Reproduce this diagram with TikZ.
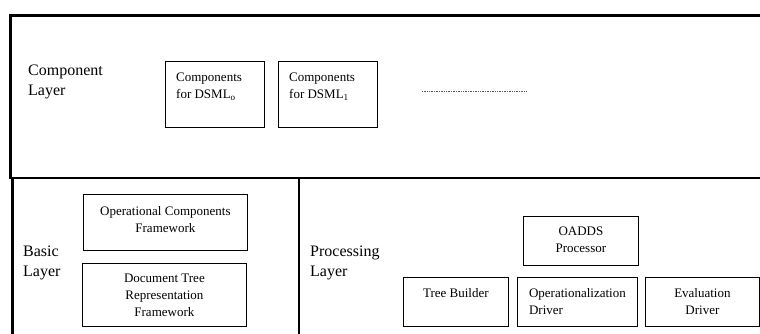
\documentclass[tikz,border=0pt]{standalone}
\usepackage{fontspec}
\setmainfont{Liberation Serif}
\usetikzlibrary{positioning}
\colorlet{layerline}{black}
\colorlet{dotgray}{black!65}

\begin{document}
\begin{tikzpicture}[x=1pt, y=-1pt,
        layer/.style={draw=layerline, line width=2.8pt},
        box/.style={draw, line width=0.8pt, inner sep=0pt, anchor=north west},
        boxtext/.style={font=\fontsize{13}{17}\selectfont, inner sep=0pt, anchor=north, align=center},
        layertext/.style={font=\fontsize{16}{20.5}\selectfont, inner sep=0pt, anchor=west, align=left}]
        \clip (0,0) rectangle (760,334);
        % the three layers
        \draw[layer] (10.5,15.5) rectangle (800,178);
        \draw[layer] (12.5,178) rectangle (299,360);
        \draw[layer] (299,178) rectangle (800,360);
        \node[layertext] (complayer) at (28,82) {Component\\Layer};
        \node[layertext] (basiclayer) at (23,263) {Basic\\Layer};
        \node[layertext] (proclayer) at (310,263) {Processing\\Layer};
        % component layer
        \foreach \i/\x/\s in {0/165/o, 1/278/1}{
            \node[box, minimum width=99pt, minimum height=66pt] (dsml\i) at (\x,61) {};
            \node[boxtext, anchor=north west, align=left] (dsml\i-text) at ([shift={(11,12)}]dsml\i.north west) {Components\\for DSML\textsubscript{\s}};
        }
        \coordinate (dots-start) at (422,91);
        \coordinate (dots-end) at (526,91);
        \draw[dotgray, densely dotted, line width=0.7pt] (dots-start) -- (dots-end);
        % basic layer
        \node[box, minimum width=164pt, minimum height=56pt] (opfw) at (83,194) {};
        \node[boxtext] (opfw-text) at ([yshift=-12pt]opfw.north) {Operational Components\\Framework};
        \node[box, minimum width=164pt, minimum height=63pt] (doctree) at (82,263) {};
        \node[boxtext] (doctree-text) at ([yshift=-11pt]doctree.north) {Document Tree\\Representation\\Framework};
        % processing layer
        \node[box, minimum width=115pt, minimum height=49pt] (oadds) at (523,216) {};
        \node[boxtext] (oadds-text) at ([yshift=-11pt]oadds.north) {OADDS\\Processor};
        \node[box, minimum width=105pt, minimum height=49pt] (treebuilder) at (403,277) {};
        \node[boxtext] (treebuilder-text) at ([yshift=-11pt]treebuilder.north) {Tree Builder};
        \node[box, minimum width=120pt, minimum height=49pt] (opdriver) at (517,277) {};
        \node[boxtext, align=left] (opdriver-text) at ([yshift=-11pt]opdriver.north) {Operationalization\\Driver};
        \node[box, minimum width=114pt, minimum height=49pt] (evaldriver) at (645,277) {};
        \node[boxtext] (evaldriver-text) at ([yshift=-11pt]evaldriver.north) {Evaluation\\Driver};
    \end{tikzpicture}
\end{document}
